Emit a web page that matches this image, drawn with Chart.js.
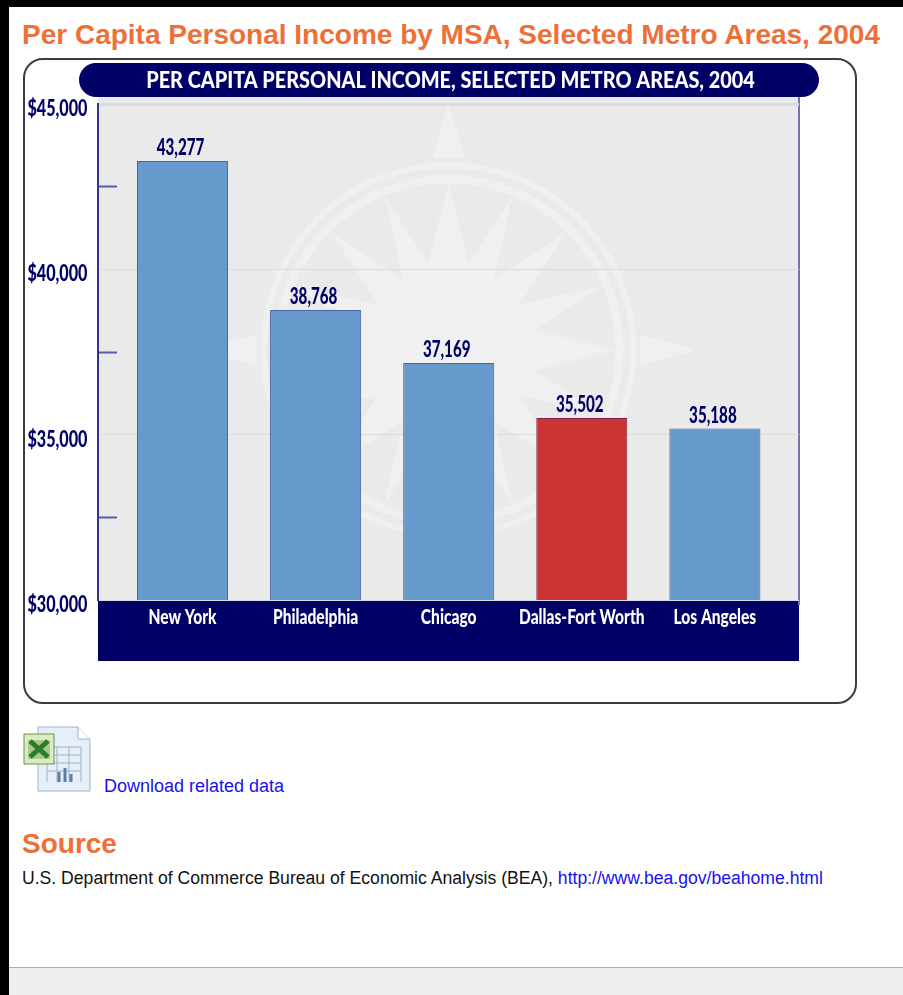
<!DOCTYPE html>
<html>
<head>
<meta charset="utf-8">
<title>Per Capita Personal Income by MSA</title>
<script src="https://cdn.jsdelivr.net/npm/chart.js@4/dist/chart.umd.min.js"></script>
<style>
html, body { margin: 0; padding: 0; background: #fff; }
body { width: 903px; height: 995px; position: relative; overflow: hidden; font-family: "Liberation Sans", Arial, sans-serif; }
.edge-top { position: absolute; left: 0; top: 0; width: 903px; height: 7px; background: #000; }
.edge-left { position: absolute; left: 0; top: 0; width: 9px; height: 995px; background: #000; }
h1, h2 { position: absolute; left: 22px; margin: 0; color: #ee7038; font-size: 28px; font-weight: bold; line-height: 32px; white-space: nowrap; }
h1 { top: 19px; }
h2 { top: 828px; }
.card { position: absolute; left: 23px; top: 58px; width: 830px; height: 642px; border: 2px solid #3c3c3c; border-radius: 20px; }
#chart { position: absolute; left: 24px; top: 60px; }
.xls { position: absolute; left: 23px; top: 726px; }
a { color: #1a10ee; text-decoration: none; }
.download { position: absolute; left: 104px; top: 776px; font-size: 18px; line-height: 20px; white-space: nowrap; }
.source { position: absolute; left: 22px; top: 868px; font-size: 17.6px; line-height: 20px; color: #111; white-space: nowrap; }
.foot { position: absolute; left: 9px; right: 0; top: 967px; bottom: 0; background: #f0eded; border-top: 1px solid #aaa; }
</style>
</head>
<body>
<div class="edge-top"></div>
<div class="edge-left"></div>
<h1>Per Capita Personal Income by MSA, Selected Metro Areas, 2004</h1>
<div class="card"></div>
<canvas id="chart" width="851" height="642"></canvas>
<svg class="xls" width="68" height="67" viewBox="0 0 68 67">
  <path d="M15 1H55L67 13V65H15Z" fill="#e6eef8" stroke="#9db4d0"/>
  <path d="M55 1V13H67" fill="#fff" stroke="#9db4d0"/>
  <path d="M24 21H58M24 29H58M24 37H58M24 45H58M34 21V56M46 21V56M24 21V56M58 21V56" stroke="#9fb4c8" fill="none"/>
  <path d="M36 56V46M42 56V42M48 56V48" stroke="#5a7f9f" stroke-width="3"/>
  <rect x="1" y="8" width="30" height="30" fill="#dcebc4" stroke="#6d8f4d"/>
  <path d="M5 14H27V33H5Z" fill="#aacb84"/>
  <path d="M7 15L25 31M25 15L7 31" stroke="#2f7a32" stroke-width="5"/>
</svg>
<a class="download" href="#">Download related data</a>
<h2>Source</h2>
<div class="source">U.S. Department of Commerce Bureau of Economic Analysis (BEA), <a href="#">http://www.bea.gov/beahome.html</a></div>
<div class="foot"></div>

<script>
const titleText = 'PER CAPITA PERSONAL INCOME, SELECTED METRO AREAS, 2004';
const metroAreas = ['New York', 'Philadelphia', 'Chicago', 'Dallas-Fort Worth', 'Los Angeles'];
const incomeValues = [43277, 38768, 37169, 35502, 35188];
const barColors = ['#6699cc', '#6699cc', '#6699cc', '#cc3333', '#6699cc'];
const barEdges = ['#4a62a4', '#4a62a4', '#4a62a4', '#7c2348', '#4a62a4'];
const NAVY = '#000066';
const LABEL_FONT = 'Lato, "Liberation Sans", sans-serif';

// no condensed face is installed, so labels get squeezed horizontally
function squeezedText(ctx, text, x, y, font, squeeze, align) {
    ctx.save();
    ctx.font = font;
    ctx.textAlign = align;
    ctx.textBaseline = 'middle';
    ctx.translate(x, y);
    ctx.scale(squeeze, 1);
    ctx.fillText(text, 0, 0);
    ctx.restore();
}

function spike(ctx, cx, cy, angle, inner, outer, halfWidth) {
    ctx.save();
    ctx.translate(cx, cy);
    ctx.rotate(angle);
    ctx.beginPath();
    ctx.moveTo(-halfWidth, -inner);
    ctx.lineTo(0, -outer);
    ctx.lineTo(halfWidth, -inner);
    ctx.closePath();
    ctx.fill();
    ctx.restore();
}

function drawCompass(ctx, cx, cy) {
    const step = Math.PI / 8;
    ctx.fillStyle = '#f0f0f0';
    ctx.strokeStyle = '#f0f0f0';
    ctx.lineWidth = 6;
    ctx.beginPath();
    ctx.arc(cx, cy, 185, 0, Math.PI * 2);
    ctx.stroke();
    ctx.lineWidth = 8;
    ctx.beginPath();
    ctx.arc(cx, cy, 171, 0, Math.PI * 2);
    ctx.stroke();

    ctx.beginPath();
    ctx.arc(cx, cy, 62, 0, Math.PI * 2);
    ctx.fill();
    for (let i = 0; i < 16; i++) {
        if (i % 4 === 0) {
            spike(ctx, cx, cy, i * step, 192, 247, 16);
            spike(ctx, cx, cy, i * step, 40, 167, 32);
        } else if (i % 2 === 0) {
            spike(ctx, cx, cy, i * step, 55, 165, 24);
        } else {
            spike(ctx, cx, cy, i * step, 55, 167, 20);
        }
    }
}

// plot panel, navy strip under the axis, title pill and the faint compass
const backdrop = {
    id: 'backdrop',
    beforeDraw(chart) {
        const { ctx, chartArea: a } = chart;
        ctx.save();
        ctx.fillStyle = '#eaeaea';
        ctx.fillRect(a.left, a.top - 7, a.width, a.height + 7);
        drawCompass(ctx, (a.left + a.right) / 2, (a.top + a.bottom) / 2 - 2);

        ctx.fillStyle = NAVY;
        ctx.fillRect(a.left, a.bottom, a.width, 61);
        ctx.beginPath();
        ctx.roundRect(a.left - 19, a.top - 41, a.width + 39, 34, 17);
        ctx.fill();
        ctx.fillStyle = '#fff';
        squeezedText(ctx, titleText, (a.left + a.right) / 2 + 2, a.top - 23, '900 23px ' + LABEL_FONT, 0.863, 'center');

        ctx.strokeStyle = '#7474b0';
        ctx.lineWidth = 2;
        ctx.beginPath();
        ctx.moveTo(a.right, a.top - 7);
        ctx.lineTo(a.right, a.bottom + 5);
        ctx.stroke();
        ctx.restore();
    }
};

const chartLabels = {
    id: 'chartLabels',
    afterDatasetsDraw(chart) {
        const { ctx, chartArea: a, scales } = chart;
        ctx.save();
        ctx.fillStyle = NAVY;
        chart.getDatasetMeta(0).data.forEach((bar, i) => {
            squeezedText(ctx, incomeValues[i].toLocaleString('en-US'), bar.x - 2, bar.y - 13, '900 22px ' + LABEL_FONT, 0.69, 'center');
        });
        scales.y.ticks.forEach(t => {
            if (t.label) {
                squeezedText(ctx, t.label, a.left - 10.5, scales.y.getPixelForValue(t.value) + 5, '900 22px ' + LABEL_FONT, 0.735, 'right');
            }
        });
        ctx.fillStyle = '#fff';
        scales.x.ticks.forEach(t => {
            squeezedText(ctx, t.label, scales.x.getPixelForValue(t.value), a.bottom + 17, '900 21px ' + LABEL_FONT, 0.74, 'center');
        });
        ctx.restore();
    }
};

new Chart(document.getElementById('chart'), {
    type: 'bar',
    data: {
        datasets: [{
            data: incomeValues.map((v, i) => ({ x: i, y: v })),
            backgroundColor: barColors,
            borderColor: barEdges,
            borderWidth: 1,
            borderSkipped: 'bottom',
            categoryPercentage: 1,
            barPercentage: 0.684
        }]
    },
    options: {
        responsive: false,
        animation: false,
        layout: { padding: { top: 44, right: 76 } },
        plugins: {
            legend: { display: false },
            tooltip: { enabled: false }
        },
        scales: {
            x: {
                type: 'linear',
                offset: false,
                min: -0.635,
                max: 4.632,
                afterBuildTicks(scale) {
                    scale.ticks = metroAreas.map((_, i) => ({ value: i }));
                },
                afterFit(scale) { scale.height = 102; },
                grid: { display: false },
                border: { display: false },
                ticks: {
                    display: false,
                    callback: v => metroAreas[v]
                }
            },
            y: {
                min: 30000,
                max: 45000,
                afterFit(scale) { scale.width = 74; },
                border: { color: '#33338a', width: 2 },
                grid: {
                    tickLength: -19,
                    tickWidth: 2,
                    tickColor: c => c.tick.value % 5000 ? '#5a5aa4' : 'rgba(0,0,0,0)',
                    color: c => c.tick.value % 5000 ? 'rgba(0,0,0,0)' : '#dcdcdc',
                    lineWidth: c => c.tick.value === 45000 ? 3 : 1
                },
                ticks: {
                    display: false,
                    stepSize: 2500,
                    callback: v => v % 5000 ? '' : '$' + v.toLocaleString('en-US')
                }
            }
        }
    },
    plugins: [backdrop, chartLabels]
});
</script>
</body>
</html>
